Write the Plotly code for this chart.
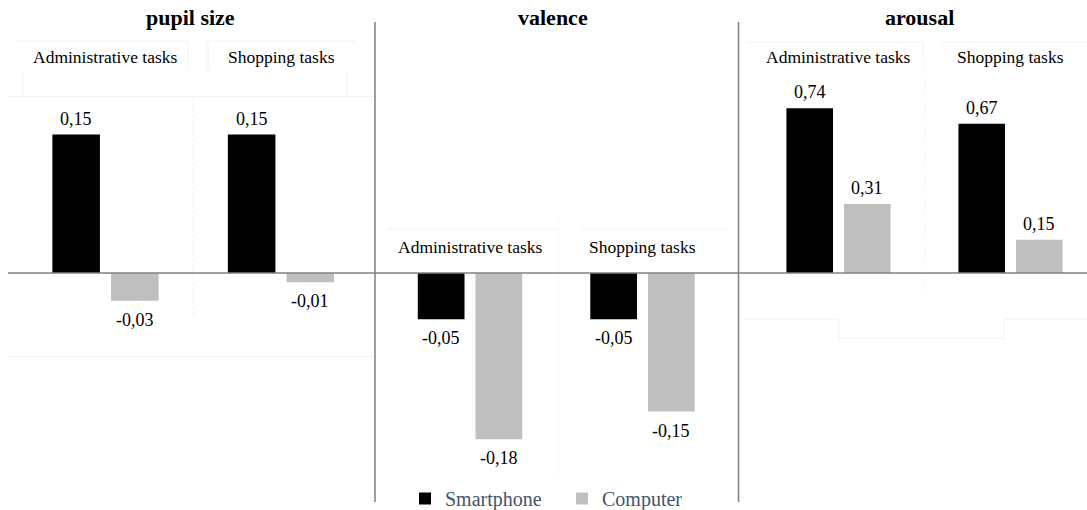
import plotly.graph_objects as go

# ---- data ----
panels = ["pupil size", "valence", "arousal"]
groups = ["Administrative tasks", "Shopping tasks"]
series = ["Smartphone", "Computer"]
smartphone_vals = {
    "pupil size": [0.15, 0.15],
    "valence": [-0.05, -0.05],
    "arousal": [0.74, 0.67],
}
computer_vals = {
    "pupil size": [-0.03, -0.01],
    "valence": [-0.18, -0.15],
    "arousal": [0.31, 0.15],
}

# ---- styling / layout ----
W, H = 1087, 510          # reference pixel grid
FIG_H = 518               # rendered figure height (page is photographed slightly squeezed)
FONT = "Liberation Serif, Times New Roman, serif"
colors = {"Smartphone": "#000000", "Computer": "#BFBFBF"}
LINE = "#808080"
FAINT = "#F2F2F2"
BARGAP, BARGROUPGAP = 0.331, 0.19


def py(p):  # reference pixel row -> paper fraction
    return 1 - p / H


def px(p):
    return p / W


zero_px = 272
scale_pv = 920.0  # px per unit (pupil & valence)
scale_ar = 222.0  # px per unit (arousal)
yr_pv = [-(H - zero_px) / scale_pv, zero_px / scale_pv]
yr_ar = [-(H - zero_px) / scale_ar, zero_px / scale_ar]

x_domains = [
    [px(17.75), px(368.75)],
    [px(383.75), px(728.75)],
    [px(752.5), 1.0],
]
x_ranges = [[-0.5, 1.5], [-0.5, 1.5], [-0.5, 1.5 - 9.5 / 172]]

fig = go.Figure()


def fmt(v):
    return f"{v:.2f}".replace(".", ",")


annotations = []
half_slot = (1 - BARGAP) / 4  # offset of each bar centre from its category centre

for i, p in enumerate(panels):
    sx = "" if i == 0 else str(i + 1)
    for k, (s, vals) in enumerate((("Smartphone", smartphone_vals), ("Computer", computer_vals))):
        fig.add_trace(go.Bar(
            x=groups, y=vals[p], name=s,
            marker=dict(color=colors[s], line=dict(width=0)),
            showlegend=(i == 0),
            legendgroup=s,
            hovertemplate="%{x}<br>" + s + ": %{y}<extra></extra>",
            xaxis=f"x{sx}", yaxis=f"y{sx}",
        ))
        for j, v in enumerate(vals[p]):
            pos = v >= 0
            annotations.append(dict(
                text=fmt(v), xref=f"x{sx}", yref=f"y{sx}",
                x=j + (half_slot if k == 1 else -half_slot), y=v,
                xanchor="center", yanchor="bottom" if pos else "top",
                yshift=4 if pos else -7, showarrow=False,
                font=dict(family=FONT, size=18, color="#000000"),
            ))

layout = dict(
    width=W, height=FIG_H,
    margin=dict(l=0, r=0, t=0, b=0),
    paper_bgcolor="white", plot_bgcolor="rgba(0,0,0,0)",
    barmode="group", bargap=BARGAP, bargroupgap=BARGROUPGAP,
    font=dict(family=FONT, color="#000000"),
    legend=dict(
        orientation="h", x=px(405), xanchor="left", y=py(497), yanchor="middle",
        font=dict(family=FONT, size=20, color="#44546A"),
        bgcolor="rgba(0,0,0,0)", traceorder="normal",
        entrywidth=112, entrywidthmode="pixels",
    ),
)
for i in range(3):
    sx = "" if i == 0 else str(i + 1)
    layout[f"xaxis{sx}"] = dict(
        domain=x_domains[i], range=x_ranges[i], type="category",
        showgrid=False, zeroline=False, showticklabels=False, showline=False,
        ticks="", anchor=f"y{sx}", fixedrange=True,
    )
    layout[f"yaxis{sx}"] = dict(
        domain=[0, 1], range=(yr_ar if i == 2 else yr_pv),
        showgrid=False, zeroline=False, showticklabels=False, showline=False,
        ticks="", anchor=f"x{sx}", fixedrange=True,
    )
fig.update_layout(**layout)


def seg(x0, y0, x1, y1, color=FAINT, width=1, dash="solid"):
    return dict(type="line", xref="paper", yref="paper", layer="below",
                x0=px(x0), x1=px(x1), y0=py(y0), y1=py(y1),
                line=dict(color=color, width=width, dash=dash))


# faint inner chart-area borders visible in the original
shapes = [
    # pupil size
    seg(15, 41, 188, 41), seg(188, 41, 188, 70), seg(208, 41, 357, 41), seg(208, 41, 208, 70),
    seg(23, 73, 23, 96), seg(347, 73, 347, 96), seg(8, 96, 375, 96),
    seg(8, 355, 375, 355), seg(193, 96, 193, 316, dash="dot"),
    # valence
    seg(388, 228, 561, 228), seg(581, 228, 728, 228), seg(558, 215, 558, 478, dash="dot"),
    # arousal
    seg(748, 42, 923, 42), seg(923, 42, 923, 62), seg(941, 42, 1087, 42),
    seg(925, 62, 925, 294, dash="dot"),
    seg(744, 318, 839, 318), seg(839, 318, 839, 337), seg(839, 337, 1004, 337),
    seg(1004, 318, 1004, 337), seg(1004, 318, 1087, 318),
]
# zero line across the whole chart and panel dividers
shapes += [
    dict(type="line", xref="paper", yref="y", x0=px(8), x1=1.0, y0=0, y1=0,
         line=dict(color=LINE, width=1.5)),
    dict(type="line", xref="paper", yref="paper", x0=px(375), x1=px(375),
         y0=py(22), y1=py(500), line=dict(color=LINE, width=1.5)),
    dict(type="line", xref="paper", yref="paper", x0=px(738.5), x1=px(738.5),
         y0=py(22), y1=py(500), line=dict(color=LINE, width=1.5)),
]
fig.update_layout(shapes=shapes)

# panel titles
title_x = [190, 553, 919]
for i, p in enumerate(panels):
    annotations.append(dict(
        text=f"<b>{p}</b>", xref="paper", yref="paper", x=px(title_x[i]), y=py(17),
        xanchor="center", yanchor="middle", showarrow=False,
        font=dict(family=FONT, size=22, color="#000000"),
    ))
# group labels
label_rows = [57, 246, 57]
for i, p in enumerate(panels):
    sx = "" if i == 0 else str(i + 1)
    for g in groups:
        annotations.append(dict(
            text=g, xref=f"x{sx}", yref="paper", x=g, y=py(label_rows[i]),
            xanchor="center", yanchor="middle", showarrow=False,
            font=dict(family=FONT, size=17.5, color="#000000"),
        ))
fig.update_layout(annotations=annotations)

fig.write_html("out.html", config={"displayModeBar": False},
               post_script="document.body.style.margin='0px';")
